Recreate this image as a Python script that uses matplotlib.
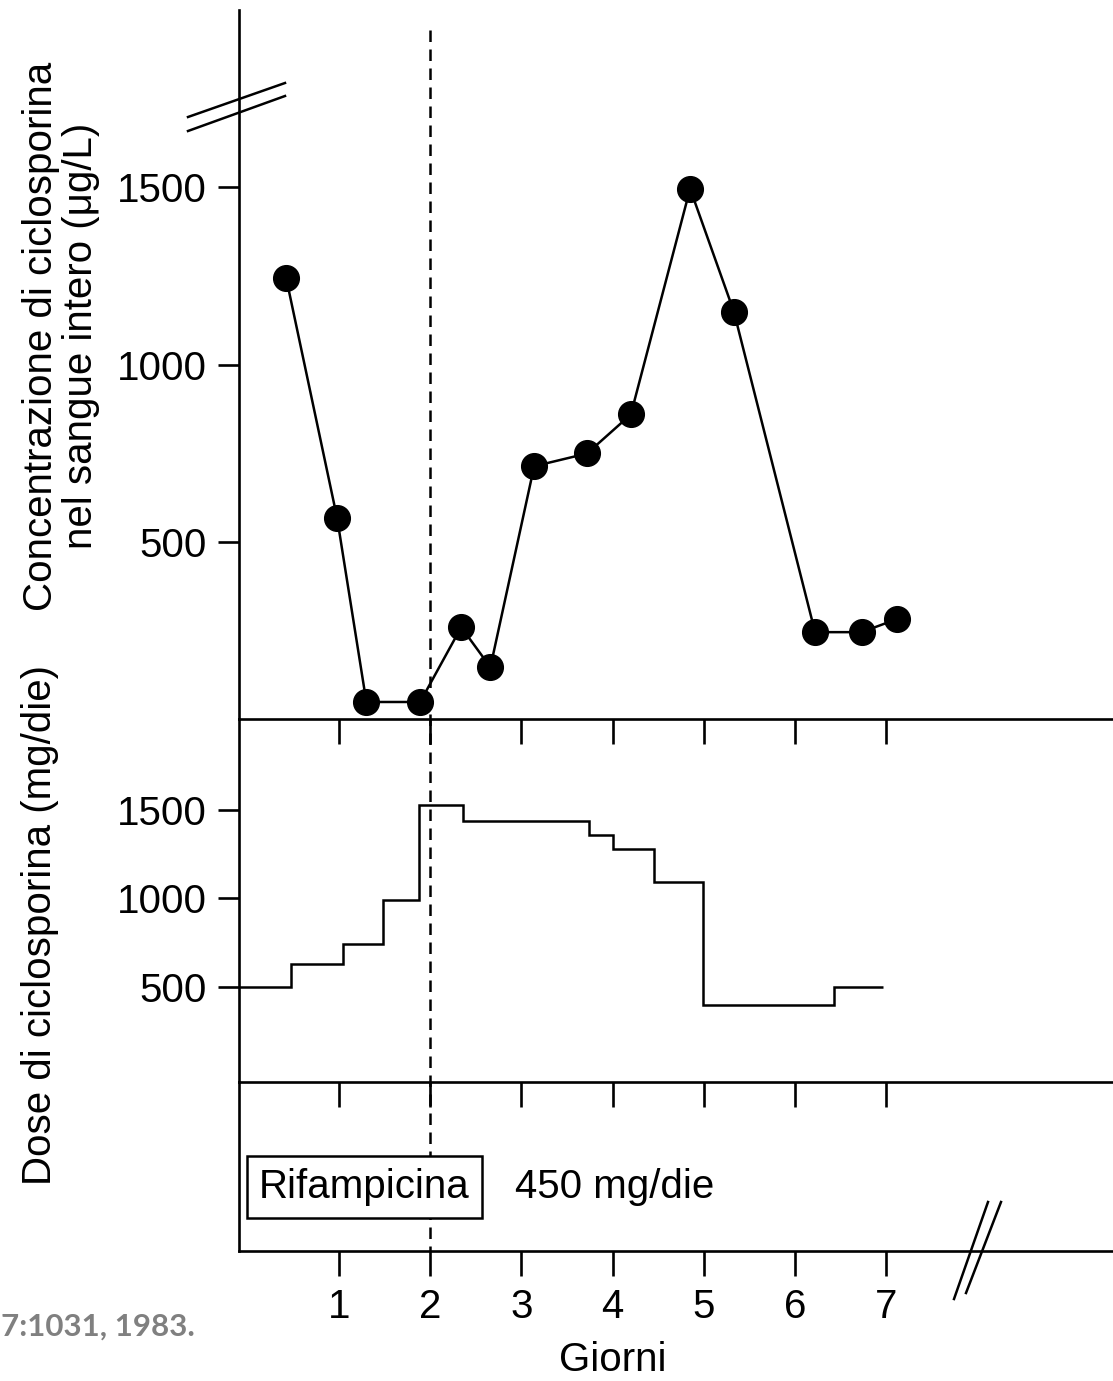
import matplotlib
matplotlib.use("Agg")
import matplotlib.pyplot as plt
from matplotlib.lines import Line2D
import matplotlib.transforms as mtransforms

plt.rcParams['font.family'] = ['Liberation Sans', 'DejaVu Sans']

# concentration in whole blood (ug/L)
conc_days = [0.42, 0.98, 1.30, 1.89, 2.34, 2.66, 3.14, 3.72, 4.20, 4.85, 5.33, 6.22, 6.73, 7.12]
conc_vals = [1245, 566, 48, 48, 259, 146, 713, 749, 859, 1496, 1149, 245, 245, 282]

# daily cyclosporin dose (mg/die), step function
dose_edges = [-0.1, 0.47, 1.04, 1.48, 1.88, 2.36, 3.74, 4.00, 4.45, 4.99, 6.43, 6.97]
dose_vals = [500, 630, 741, 991, 1527, 1440, 1359, 1280, 1095, 400, 500]

rif_start = 2
day_ticks = [1, 2, 3, 4, 5, 6, 7]
conc_ticks = [500, 1000, 1500]
dose_ticks = [500, 1000, 1500]

W, H = 1113, 1381
fs = 29
lw_ax = 1.9
lw = 1.8

fig = plt.figure(figsize=(W / 100, H / 100), dpi=100)

def fy(py):
    return 1 - py / H

left = 239 / W
ax_top = fig.add_axes([left, fy(719), 1 - left, fy(10) - fy(719)], facecolor='none')
ax_mid = fig.add_axes([left, fy(1082), 1 - left, fy(719) - fy(1082)], facecolor='none')
ax_bot = fig.add_axes([left, fy(1251), 1 - left, fy(1082) - fy(1251)], facecolor='none')

for ax in (ax_top, ax_mid, ax_bot):
    ax.set_xlim(-0.0965, 9.487)
    for s in ('top', 'right'):
        ax.spines[s].set_visible(False)
    for s in ('left', 'bottom'):
        ax.spines[s].set_linewidth(lw_ax)
    ax.set_xticks(day_ticks)
    ax.tick_params(axis='x', direction='out', length=18, width=lw_ax,
                   labelsize=fs, pad=9)
    ax.tick_params(axis='y', direction='out', length=15, width=lw_ax,
                   labelsize=fs, pad=8)

ax_top.set_xticklabels([])
ax_mid.set_xticklabels([])

# top panel
ax_top.set_ylim(0, 2000)
ax_top.set_yticks(conc_ticks)
ax_top.plot(conc_days, conc_vals, color='k', linewidth=lw, marker='o',
            markersize=18.5, markerfacecolor='k', clip_on=False, zorder=3)

# middle panel
ax_mid.set_ylim(-37, 2014)
ax_mid.set_yticks(dose_ticks)
ax_mid.stairs(dose_vals, dose_edges, baseline=None, color='k', linewidth=lw)

# bottom panel
ax_bot.set_ylim(0, 1)
ax_bot.set_yticks([])
ax_bot.text(1.28, 0.379, "Rifampicina", fontsize=fs, ha='center', va='center',
            bbox=dict(boxstyle='square,pad=0.3', facecolor='white',
                      edgecolor='k', linewidth=lw))
ax_bot.text(2.93, 0.379, "450 mg/die", fontsize=fs, ha='left', va='center')

# rifampicin start, dashed line across all panels
trans = mtransforms.blended_transform_factory(ax_bot.transData, fig.transFigure)
fig.add_artist(Line2D([rif_start, rif_start], [fy(30), fy(1251)], transform=trans,
                      color='k', linewidth=lw, linestyle=(0, (4.6, 3.0)), zorder=-1))

# axis breaks
for (x0, y0, x1, y1) in [(188, 117, 285, 83), (188, 131, 285, 96),
                         (954, 1299, 988, 1202), (966, 1293, 1001, 1202)]:
    fig.add_artist(Line2D([x0 / W, x1 / W], [fy(y0), fy(y1)], color='k', linewidth=lw))

fig.text(613 / W, fy(1360), "Giorni", fontsize=fs, ha='center', va='center')
fig.text(61 / W, fy(336), "Concentrazione di ciclosporina\nnel sangue intero (\u03bcg/L)",
         fontsize=fs, rotation=90, ha='center', va='center', multialignment='center',
         linespacing=1.05)
fig.text(40 / W, fy(925), "Dose di ciclosporina (mg/die)", fontsize=fs,
         rotation=90, ha='center', va='center')

fig.text(1 / W, fy(1327), "7:1031, 1983.", fontsize=22.5, color='#808080',
         fontweight='bold', family=['Lato', 'DejaVu Sans'], ha='left', va='center')

fig.savefig("out.png", dpi=100)
